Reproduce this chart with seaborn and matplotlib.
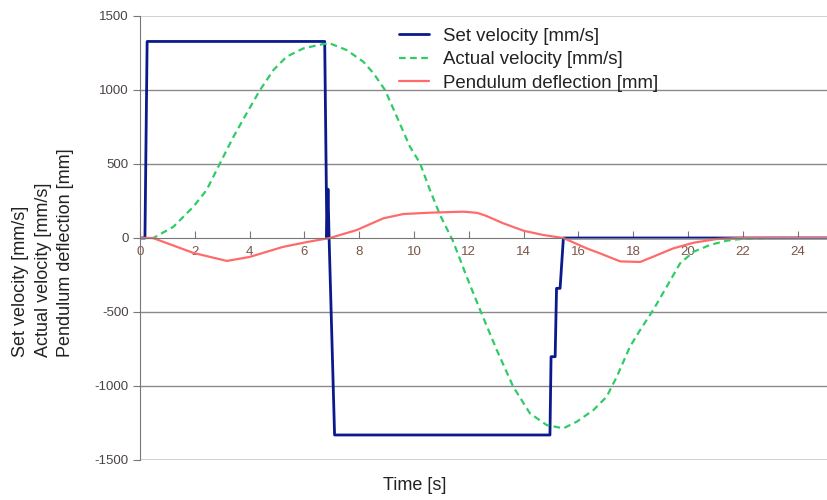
import numpy as np
import pandas as pd
import matplotlib
matplotlib.use("Agg")
import matplotlib.pyplot as plt
import seaborn as sns

# set velocity (step profile) [mm/s]
t_set = [0, 0.18, 0.26, 6.74, 6.82, 6.86, 6.9, 7.1, 14.96, 15.0, 15.15, 15.2, 15.33, 15.45, 25.1]
v_set = [0, 0, 1328, 1328, 0, 330, 0, -1331, -1331, -802, -802, -340, -340, 0, 0]

# actual velocity [mm/s]
t_act = [0, 0.49, 1.22, 1.95, 2.43, 2.92, 3.41, 3.89, 4.38, 4.87, 5.35, 5.96, 6.69, 6.93,
         7.54, 8.15, 8.52, 8.94, 9.37, 9.85, 10.22, 10.58, 10.95, 11.42, 11.92, 12.41,
         13.02, 13.62, 14.23, 14.84, 15.45, 15.94, 16.55, 17.03, 17.4, 17.88, 18.25,
         18.73, 19.22, 19.71, 20.2, 20.8, 21.41, 22.0, 23.0, 25.1]
v_act = [0, 0, 76, 212, 324, 505, 684, 842, 1000, 1135, 1225, 1281, 1311, 1315,
         1270, 1191, 1113, 1000, 820, 617, 505, 324, 155, -20, -261, -486,
         -757, -1005, -1185, -1264, -1286, -1241, -1162, -1072, -937, -734, -622,
         -486, -329, -171, -93, -47, -18, -5, 0, 0]

# pendulum deflection [mm]
t_pen = [0, 0.47, 1.95, 3.17, 4.0, 5.2, 6.1, 6.93, 7.91, 8.88, 9.61, 10.58, 11.8, 12.3,
         12.6, 13.26, 14.0, 14.72, 15.45, 16.3, 16.79, 17.52, 18.25, 18.73, 19.46,
         20.2, 21.05, 21.9, 25.1]
d_pen = [0, 0, -101, -155, -128, -61, -27, 0, 54, 133, 162, 171, 178, 170,
         152, 99, 49, 20, 0, -70, -104, -158, -162, -126, -70,
         -32, -7, 0, 0]

x_ticks = list(range(0, 25, 2))
y_ticks = [-1500, -1000, -500, 0, 500, 1000, 1500]

sns.set_style("white")
plt.rcParams["font.family"] = ["Liberation Sans", "DejaVu Sans"]
plt.rcParams["axes.unicode_minus"] = False

fig = plt.figure(figsize=(8.27, 5.0), dpi=100)
ax = fig.add_axes([0.1693, 0.08, 0.8307, 0.888])

# grid lines
for y in [-1000, -500, 500, 1000]:
    ax.axhline(y, color="#8a8a8a", lw=1.0, zorder=0)
for y in [-1500, 1500]:
    ax.axhline(y, color="#c8c8c8", lw=1.2, zorder=0)

sns.lineplot(x=t_set, y=v_set, ax=ax, color="#0a1a8c", lw=2.0, sort=False,
             estimator=None, label="Set velocity [mm/s]")
sns.lineplot(x=t_act, y=v_act, ax=ax, color="#2ecc66", lw=1.6, sort=False,
             estimator=None, label="Actual velocity [mm/s]")
ax.lines[-1].set_dashes([3, 2])
sns.lineplot(x=t_pen, y=d_pen, ax=ax, color="#ff6b6b", lw=1.6, sort=False,
             estimator=None, label="Pendulum deflection [mm]")

ax.set_xlim(0, 25.07)
ax.set_ylim(-1500, 1500)
ax.set_xticks(x_ticks)
ax.set_yticks(y_ticks)

ax.spines["bottom"].set_position(("data", 0))
ax.spines["bottom"].set_color("#777777")
ax.spines["left"].set_color("#777777")
ax.spines["top"].set_visible(False)
ax.spines["right"].set_visible(False)

ax.tick_params(axis="x", direction="in", length=5, color="#777777",
               labelsize=9.5, labelcolor="#7a5548", pad=6, bottom=True)
ax.tick_params(axis="y", direction="out", length=5, color="#777777",
               labelsize=9.5, labelcolor="#4a4444", pad=3, left=True)

ax.set_xlabel("")
ax.set_ylabel("")

leg = ax.legend(loc="upper left", bbox_to_anchor=(0.366, 0.99), frameon=False,
                fontsize=13.4, handlelength=1.6, labelspacing=0.35,
                handletextpad=0.75, borderaxespad=0.0)
for txt in leg.get_texts():
    txt.set_color("#222222")

fig.text(0.502, 0.03, "Time [s]", ha="center", va="center", fontsize=13, color="#222222")
fig.text(0.052, 0.494, "Set velocity [mm/s]\nActual velocity [mm/s]\nPendulum deflection [mm]",
         rotation=90, ha="center", va="center", fontsize=13, color="#222222",
         linespacing=1.42, multialignment="left")

fig.savefig("out.png", dpi=100)
